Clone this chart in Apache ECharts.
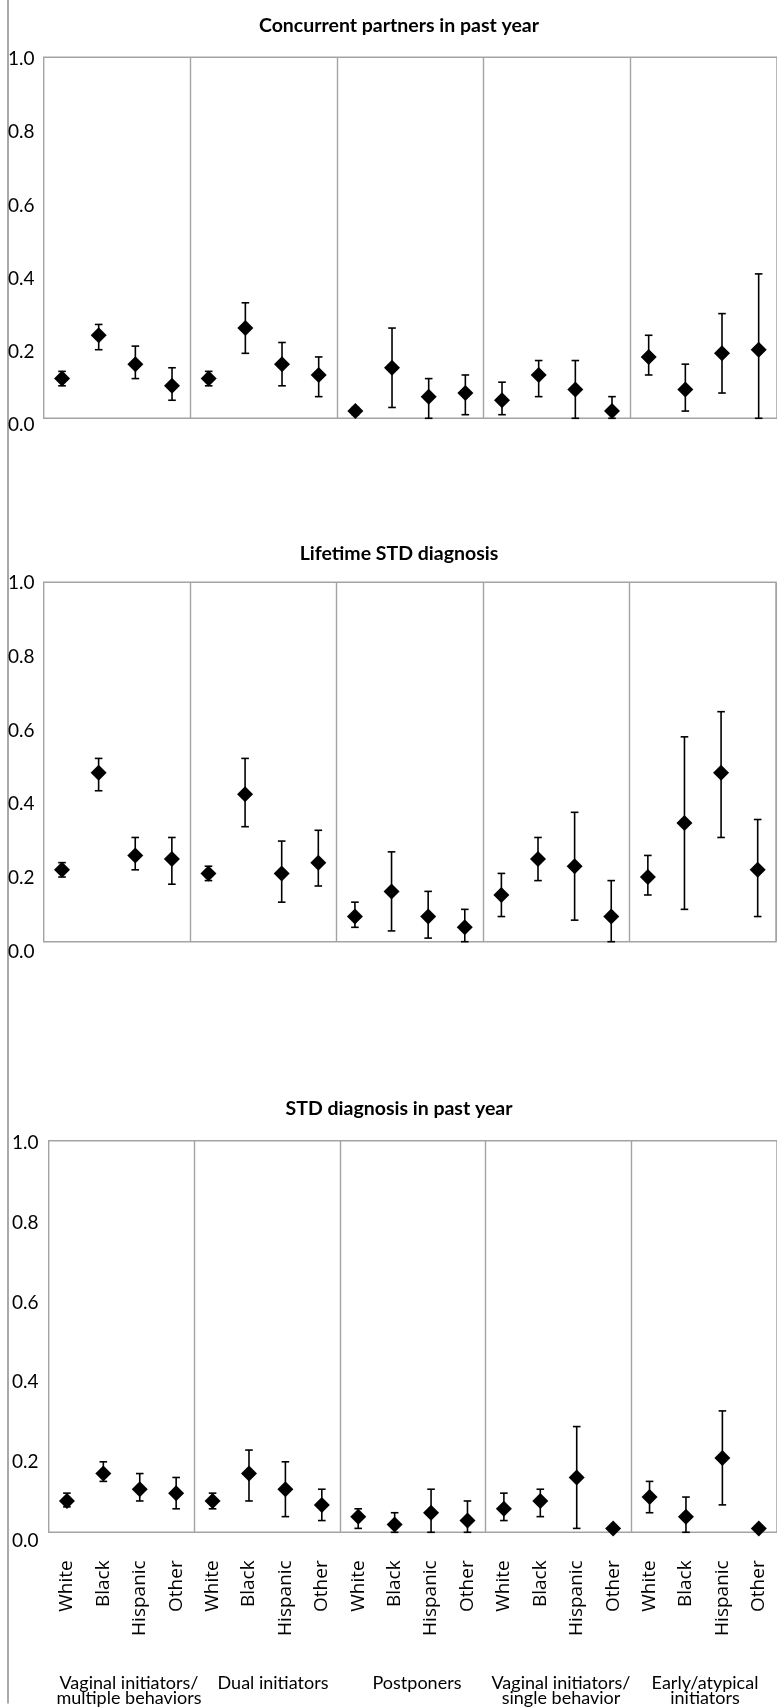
<!DOCTYPE html>
<html>
<head>
<meta charset="utf-8">
<script src="https://cdn.jsdelivr.net/npm/echarts@6/dist/echarts.min.js"></script>
<style>
html,body{margin:0;padding:0;background:#fff;}
#chart{width:777px;height:1708px;}
</style>
</head>
<body>
<div id="chart"></div>
<script>
// ---- data ----
const races = ['White', 'Black', 'Hispanic', 'Other'];
const groups = ['Vaginal initiators/\nmultiple behaviors', 'Dual initiators', 'Postponers', 'Vaginal initiators/\nsingle behavior', 'Early/atypical\ninitiators'];
const panelTitles = ['Concurrent partners in past year', 'Lifetime STD diagnosis', 'STD diagnosis in past year'];
const yTickLabels = ['0.0', '0.2', '0.4', '0.6', '0.8', '1.0'];

const concurrentValue = [0.11, 0.23, 0.15, 0.09, 0.11, 0.25, 0.15, 0.12, 0.02, 0.14, 0.06, 0.07, 0.05, 0.12, 0.08, 0.02, 0.17, 0.08, 0.18, 0.19];
const concurrentLow   = [0.09, 0.19, 0.11, 0.05, 0.09, 0.18, 0.09, 0.06, 0.01, 0.03, 0.00, 0.01, 0.01, 0.06, 0.00, 0.00, 0.12, 0.02, 0.07, 0.00];
const concurrentHigh  = [0.13, 0.26, 0.20, 0.14, 0.13, 0.32, 0.21, 0.17, 0.03, 0.25, 0.11, 0.12, 0.10, 0.16, 0.16, 0.06, 0.23, 0.15, 0.29, 0.40];

const lifetimeValue = [0.20, 0.47, 0.24, 0.23, 0.19, 0.41, 0.19, 0.22, 0.07, 0.14, 0.07, 0.04, 0.13, 0.23, 0.21, 0.07, 0.18, 0.33, 0.47, 0.20];
const lifetimeLow   = [0.18, 0.42, 0.20, 0.16, 0.17, 0.32, 0.11, 0.155, 0.04, 0.03, 0.01, 0.00, 0.07, 0.17, 0.06, 0.00, 0.13, 0.09, 0.29, 0.07];
const lifetimeHigh  = [0.22, 0.51, 0.29, 0.29, 0.21, 0.51, 0.28, 0.31, 0.11, 0.25, 0.14, 0.09, 0.19, 0.29, 0.36, 0.17, 0.24, 0.57, 0.64, 0.34];

const pastYearValue = [0.08, 0.15, 0.11, 0.10, 0.08, 0.15, 0.11, 0.07, 0.04, 0.02, 0.05, 0.03, 0.06, 0.08, 0.14, 0.01, 0.09, 0.04, 0.19, 0.01];
const pastYearLow   = [0.065, 0.13, 0.08, 0.06, 0.06, 0.08, 0.04, 0.03, 0.01, 0.00, 0.00, 0.00, 0.03, 0.04, 0.01, 0.01, 0.05, 0.00, 0.07, 0.01];
const pastYearHigh  = [0.10, 0.18, 0.15, 0.14, 0.10, 0.21, 0.18, 0.11, 0.06, 0.05, 0.11, 0.08, 0.10, 0.11, 0.27, 0.01, 0.13, 0.09, 0.31, 0.01];

// ---- build ----
const categories = [];
groups.forEach(() => races.forEach(r => categories.push(r)));
const groupLine1 = groups.map(g => g.split('\n')[0]);
const groupLine2 = groups.map(g => g.split('\n')[1] || '');

const panels = [
  {v: concurrentValue, lo: concurrentLow, hi: concurrentHigh},
  {v: lifetimeValue, lo: lifetimeLow, hi: lifetimeHigh},
  {v: pastYearValue, lo: pastYearLow, hi: pastYearHigh}
];

const frameColor = '#a3a3a3';
const plotGrids = [
  {left: 43.7, top: 57.3, width: 736, height: 361},
  {left: 43.7, top: 582.3, width: 732.3, height: 359.4},
  {left: 48.7, top: 1140.7, width: 732, height: 391.6}
];
const labelGrids = [
  {left: 8, top: 59, width: 30, height: 366},
  {left: 8, top: 583.3, width: 30, height: 368.4},
  {left: 12, top: 1143.3, width: 30, height: 397.7}
];
const titleTops = [11, 539, 1094];

const grid = [];
const xAxis = [];
const yAxis = [];
const series = [];
const title = [];

plotGrids.forEach((g, i) => {
  grid.push(Object.assign({show: true, borderColor: frameColor, borderWidth: 1.4, backgroundColor: 'transparent'}, g));
  xAxis.push({
    type: 'category', gridIndex: grid.length - 1, data: categories, boundaryGap: true,
    axisLine: {show: false}, axisTick: {show: false},
    axisLabel: i === 2 ? {
      show: true, rotate: 90, margin: 28, interval: 0,
      fontFamily: 'Open Sans', fontSize: 19, color: '#000'
    } : {show: false},
    splitLine: {show: true, interval: (idx) => idx % 4 === 0 && idx > 0, lineStyle: {color: frameColor, width: 1.4}}
  });
  yAxis.push({
    type: 'value', gridIndex: grid.length - 1, min: 0, max: 1, interval: 0.2,
    axisLine: {show: false}, axisTick: {show: false}, axisLabel: {show: false}, splitLine: {show: false}
  });
  const xi = xAxis.length - 1, yi = yAxis.length - 1;
  const p = panels[i];
  series.push({
    type: 'custom', xAxisIndex: xi, yAxisIndex: yi,
    data: p.v.map((_, k) => [k, p.lo[k], p.hi[k]]),
    encode: {x: 0, y: [1, 2]},
    renderItem: function (params, api) {
      const x = api.value(0);
      const a = api.coord([x, api.value(1)]);
      const b = api.coord([x, api.value(2)]);
      const h = 3.8;
      const st = {stroke: '#000', lineWidth: 1.6};
      return {type: 'group', children: [
        {type: 'line', shape: {x1: a[0], y1: a[1], x2: b[0], y2: b[1]}, style: st},
        {type: 'line', shape: {x1: a[0] - h, y1: a[1], x2: a[0] + h, y2: a[1]}, style: st},
        {type: 'line', shape: {x1: b[0] - h, y1: b[1], x2: b[0] + h, y2: b[1]}, style: st}
      ]};
    },
    z: 3, silent: true
  });
  series.push({
    type: 'scatter', xAxisIndex: xi, yAxisIndex: yi,
    data: p.v.map((val, k) => [k, val]),
    symbol: 'diamond', symbolSize: 16,
    itemStyle: {color: '#000', opacity: 1}, z: 4, silent: true
  });
  title.push({
    text: panelTitles[i], left: 394, top: titleTops[i], textAlign: 'center',
    textStyle: {fontFamily: 'Lato', fontWeight: 'bold', fontSize: 19.5, color: '#000'}
  });
});

// group labels under bottom panel (two single-line rows)
[groupLine1, groupLine2].forEach((lines, r) => {
  grid.push({left: 57, top: 1140.7, width: 729.5, height: 391.6, show: false});
  xAxis.push({
    type: 'category', gridIndex: grid.length - 1, data: lines, boundaryGap: true,
    axisLine: {show: false}, axisTick: {show: false}, splitLine: {show: false},
    axisLabel: {show: true, interval: 0, margin: 141 + r * 21, fontFamily: 'Lato', fontSize: 18, lineHeight: 20, color: '#000', verticalAlign: 'top', align: 'center'}
  });
  yAxis.push({type: 'value', gridIndex: grid.length - 1, show: false});
});

// y tick label axes
labelGrids.forEach((g) => {
  grid.push(Object.assign({show: false}, g));
  xAxis.push({type: 'value', gridIndex: grid.length - 1, show: false});
  yAxis.push({
    type: 'value', gridIndex: grid.length - 1, min: 0, max: 1, interval: 0.2, position: 'left',
    axisLine: {show: false}, axisTick: {show: false}, splitLine: {show: false},
    axisLabel: {show: true, inside: true, margin: 0, align: 'left',
      formatter: (v) => yTickLabels[Math.round(v / 0.2)],
      fontFamily: 'Lato', fontSize: 19, color: '#000'}
  });
});

// outer left rule
grid.push({left: 7.3, top: 0, width: 1, height: 1703, show: false});
xAxis.push({type: 'value', gridIndex: grid.length - 1, show: false});
yAxis.push({
  type: 'value', gridIndex: grid.length - 1, position: 'left', min: 0, max: 1,
  axisLine: {show: true, lineStyle: {color: '#8c8c8c', width: 1.5}},
  axisTick: {show: false}, axisLabel: {show: false}, splitLine: {show: false}
});

const chart = echarts.init(document.getElementById('chart'), null, {renderer: 'canvas'});
chart.setOption({animation: false, backgroundColor: '#fff', title, grid, xAxis, yAxis, series});
</script>
</body>
</html>
